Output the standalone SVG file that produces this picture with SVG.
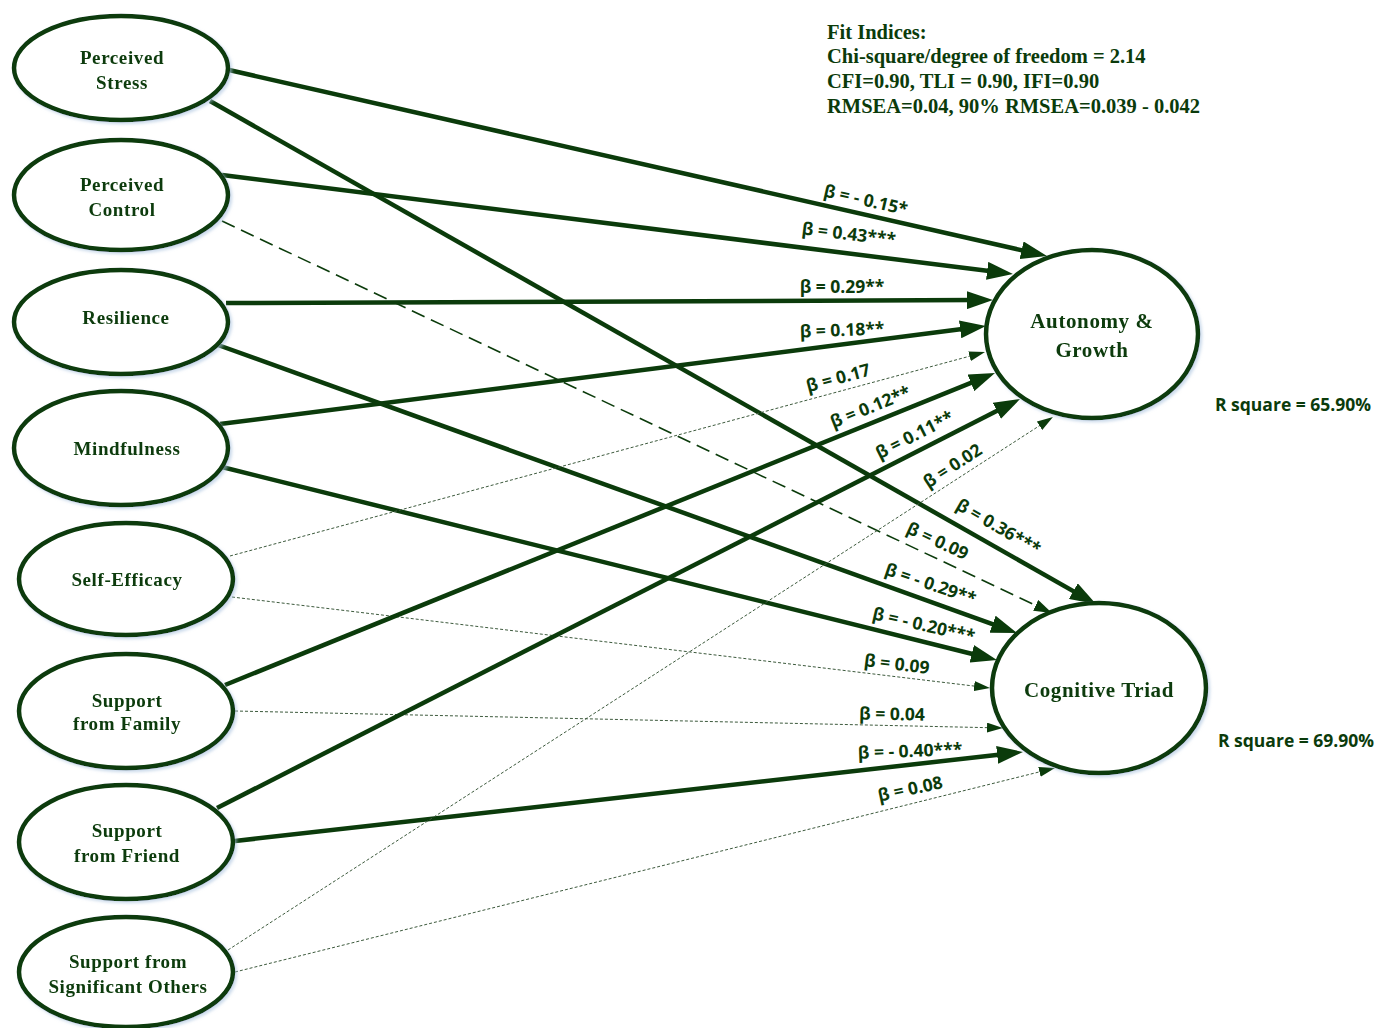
<svg xmlns="http://www.w3.org/2000/svg" width="1376" height="1028" viewBox="0 0 1376 1028">
<style>
.node ellipse{fill:#fff;stroke:#0b3b0b;stroke-width:4.5}
.nt{font-family:"Liberation Serif","Times New Roman",serif;font-weight:bold;font-size:19px;fill:#0b3b0b;text-anchor:middle;letter-spacing:0.6px}
.big{font-size:21px}
.thick{stroke:#0b3b0b;stroke-width:4.5;fill:none;marker-end:url(#ah)}
.dash{stroke:#0b3b0b;stroke-width:1.6;fill:none;stroke-dasharray:14 7;marker-end:url(#ahd)}
.thin{stroke:#3d5a3d;stroke-width:1;fill:none;stroke-dasharray:3 2;marker-end:url(#aht)}
.lb{font-family:"Open Sans","DejaVu Sans",sans-serif;font-weight:bold;font-size:17.5px;fill:#0b3b0b;text-anchor:middle;dominant-baseline:central}
.fit{font-family:"Liberation Serif","Times New Roman",serif;font-weight:bold;font-size:20.5px;fill:#0b3b0b}
.rs{font-family:"Open Sans","DejaVu Sans",sans-serif;font-weight:bold;font-size:17.5px;fill:#0b3b0b}
</style>
<defs>
<marker id="ah" markerUnits="userSpaceOnUse" markerWidth="26" markerHeight="18" refX="8" refY="9" orient="auto"><path d="M0,0 L26,9 L0,18 Z" fill="#0b3b0b"/></marker>
<marker id="ahd" markerUnits="userSpaceOnUse" markerWidth="18" markerHeight="12" refX="6" refY="6" orient="auto"><path d="M0,0 L18,6 L0,12 Z" fill="#0b3b0b"/></marker>
<marker id="aht" markerUnits="userSpaceOnUse" markerWidth="16" markerHeight="10" refX="2" refY="5" orient="auto"><path d="M0,0 L16,5 L0,10 Z" fill="#0b3b0b"/></marker>
<filter id="sh" x="-10%" y="-10%" width="125%" height="125%"><feDropShadow dx="2" dy="2" stdDeviation="1.5" flood-color="#a9c2de" flood-opacity="0.6"/></filter>
</defs>
<rect width="1376" height="1028" fill="#fff"/>

<g id="connectors">
<line class="thick" x1="229" y1="70" x2="1029.4" y2="252"/>
<line class="thick" x1="210" y1="101" x2="1080.3" y2="595.1"/>
<line class="thick" x1="222" y1="175" x2="995.1" y2="271.8"/>
<line class="dash" x1="222" y1="221" x2="1041.1" y2="607.9"/>
<line class="thick" x1="226" y1="303" x2="975" y2="300.1"/>
<line class="thick" x1="218" y1="345" x2="1000.1" y2="626.9"/>
<line class="thick" x1="220" y1="424" x2="968.1" y2="328.3"/>
<line class="thick" x1="222" y1="467" x2="979.5" y2="655.7"/>
<line class="thin" x1="230" y1="556" x2="971.5" y2="355.7"/>
<line class="thin" x1="232" y1="597" x2="976.1" y2="686.3"/>
<line class="thick" x1="225" y1="685" x2="978.3" y2="379.8"/>
<line class="thin" x1="235" y1="711" x2="989" y2="727.7"/>
<line class="thick" x1="217" y1="808" x2="1004" y2="407.2"/>
<line class="thick" x1="235" y1="841" x2="1005.1" y2="754"/>
<line class="thin" x1="228" y1="950" x2="1041.2" y2="424.6"/>
<line class="thin" x1="235" y1="972" x2="1041.4" y2="771.4"/>
</g>

<g id="labels">
<text class="lb" transform="translate(866,199) rotate(13)">β = - 0.15*</text>
<text class="lb" transform="translate(849,233) rotate(7)">β = 0.43***</text>
<text class="lb" transform="translate(842,286)">β = 0.29**</text>
<text class="lb" transform="translate(842,329) rotate(-2)">β = 0.18**</text>
<text class="lb" transform="translate(838,377) rotate(-15)">β = 0.17</text>
<text class="lb" transform="translate(870,406) rotate(-22)">β = 0.12**</text>
<text class="lb" transform="translate(914,434) rotate(-27)">β = 0.11**</text>
<text class="lb" transform="translate(952,465) rotate(-33)">β = 0.02</text>
<text class="lb" transform="translate(999,526) rotate(30)">β = 0.36***</text>
<text class="lb" transform="translate(938,540) rotate(25)">β = 0.09</text>
<text class="lb" transform="translate(931,583) rotate(19)">β = - 0.29**</text>
<text class="lb" transform="translate(924,624) rotate(13)">β = - 0.20***</text>
<text class="lb" transform="translate(897,663) rotate(7)">β = 0.09</text>
<text class="lb" transform="translate(892,713) rotate(1)">β = 0.04</text>
<text class="lb" transform="translate(910,750) rotate(-2)">β = - 0.40***</text>
<text class="lb" transform="translate(910,788) rotate(-12)">β = 0.08</text>
</g>

<g id="n-stress" class="node" filter="url(#sh)"><ellipse cx="121" cy="68" rx="107" ry="52"/><text class="nt" x="122" y="64">Perceived</text><text class="nt" x="122" y="89">Stress</text></g>
<g id="n-control" class="node" filter="url(#sh)"><ellipse cx="121" cy="195" rx="107" ry="55"/><text class="nt" x="122" y="191">Perceived</text><text class="nt" x="122" y="216">Control</text></g>
<g id="n-resilience" class="node" filter="url(#sh)"><ellipse cx="121" cy="322" rx="107" ry="52"/><text class="nt" x="126" y="324">Resilience</text></g>
<g id="n-mindfulness" class="node" filter="url(#sh)"><ellipse cx="121" cy="448" rx="107" ry="57"/><text class="nt" x="127" y="455">Mindfulness</text></g>
<g id="n-selfefficacy" class="node" filter="url(#sh)"><ellipse cx="126" cy="579" rx="107" ry="56"/><text class="nt" x="127" y="586">Self-Efficacy</text></g>
<g id="n-family" class="node" filter="url(#sh)"><ellipse cx="126" cy="711" rx="107" ry="57"/><text class="nt" x="127" y="707">Support</text><text class="nt" x="127" y="730">from Family</text></g>
<g id="n-friend" class="node" filter="url(#sh)"><ellipse cx="126" cy="842" rx="107" ry="57"/><text class="nt" x="127" y="837">Support</text><text class="nt" x="127" y="862">from Friend</text></g>
<g id="n-others" class="node" filter="url(#sh)"><ellipse cx="126" cy="972" rx="107" ry="55"/><text class="nt" x="128" y="968">Support from</text><text class="nt" x="128" y="993">Significant Others</text></g>
<g id="n-autonomy" class="node" filter="url(#sh)"><ellipse cx="1092" cy="334" rx="106" ry="84"/><text class="nt big" x="1092" y="328">Autonomy &amp;</text><text class="nt big" x="1092" y="357">Growth</text></g>
<g id="n-cognitive" class="node" filter="url(#sh)"><ellipse cx="1099" cy="688" rx="107" ry="85"/><text class="nt big" x="1099" y="697">Cognitive Triad</text></g>

<g id="fit">
<text class="fit" x="827" y="39">Fit Indices:</text>
<text class="fit" x="827" y="63">Chi-square/degree of freedom = 2.14</text>
<text class="fit" x="827" y="88">CFI=0.90, TLI = 0.90, IFI=0.90</text>
<text class="fit" x="827" y="113">RMSEA=0.04, 90% RMSEA=0.039 - 0.042</text>
</g>
<text class="rs" x="1215" y="411">R square = 65.90%</text>
<text class="rs" x="1218" y="747">R square = 69.90%</text>
</svg>
